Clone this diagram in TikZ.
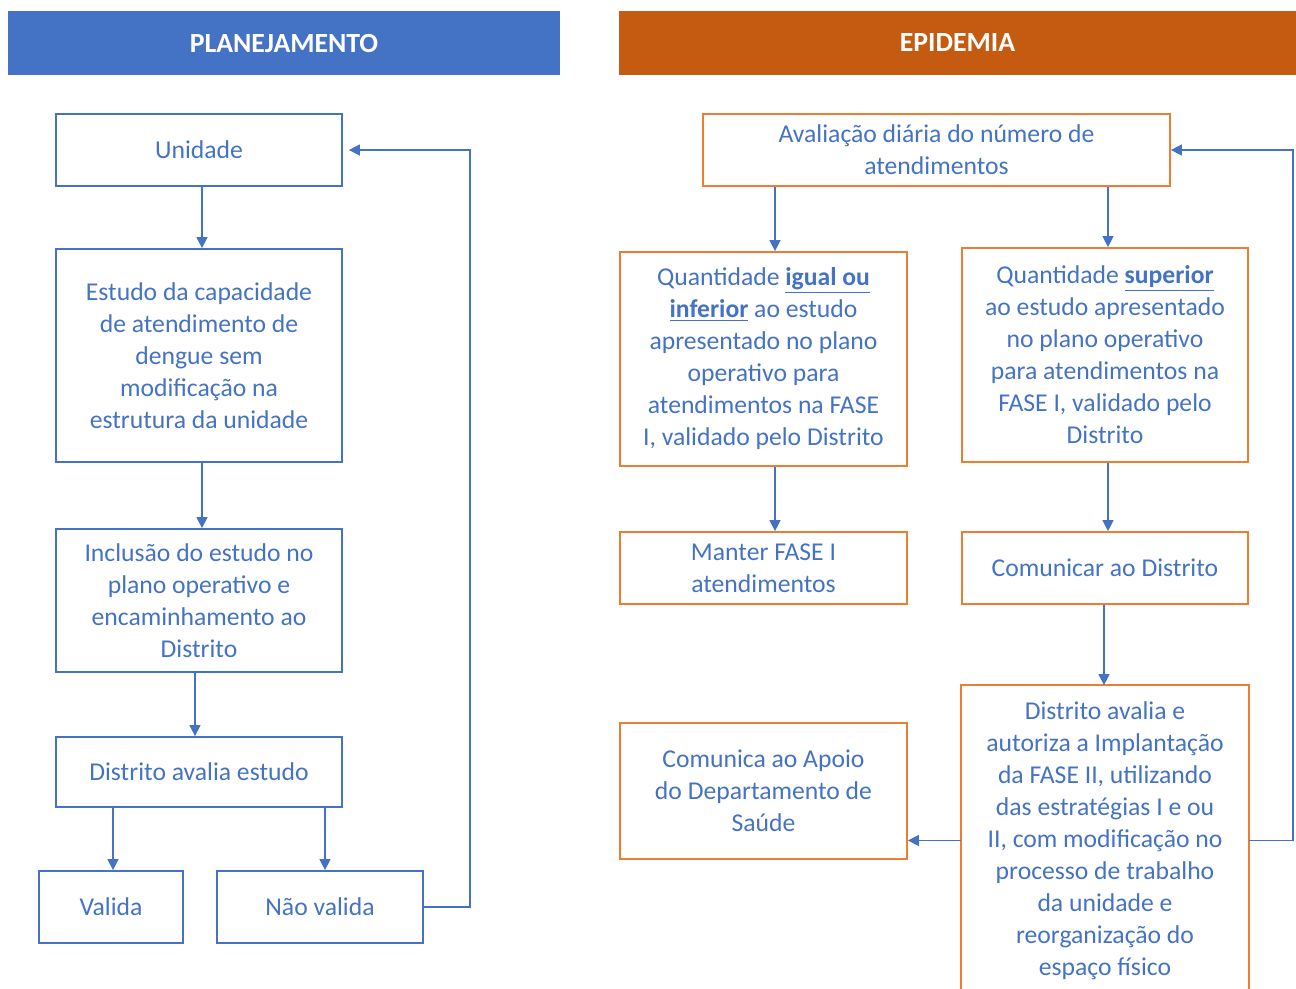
\documentclass[tikz,border=0pt]{standalone}
\usepackage{fontspec}
\setmainfont{Carlito}
\usetikzlibrary{arrows.meta}
\definecolor{planblue}{HTML}{4472C4}
\definecolor{epiorange}{HTML}{C55A11}
\definecolor{boxorange}{HTML}{ED7D31}
\def\px{0.02cm}
\def\boxfont{\fontsize{14.6}{18.2}\selectfont}

\tikzset{
  box/.style={draw=planblue, line width=1pt, text=planblue, align=center, font=\boxfont, inner sep=0pt},
  obox/.style={box, draw=boxorange},
  header/.style={inner sep=0pt, text=white, font=\fontsize{15.8}{19}\selectfont\bfseries},
  arr/.style={-{Triangle[length=2.2mm,width=2.2mm]}, draw=planblue, line width=0.8pt},
}

\begin{document}
\begin{tikzpicture}[x=0.02cm, y=-0.02cm]
\useasboundingbox (0,0) rectangle (1296,989);

% Headers
\node[header, fill=planblue, minimum width=552*\px, minimum height=64*\px] (plan) at (284,43) {PLANEJAMENTO};
\node[header, fill=epiorange, minimum width=677*\px, minimum height=64*\px] (epi) at (957.5,43) {EPIDEMIA};

% Planejamento
\node[box, minimum width=286*\px, minimum height=72*\px] (unidade) at (199,150) {Unidade};
\node[box, minimum width=286*\px, minimum height=213*\px] (estudo) at (199,355.5) {Estudo da capacidade\\de atendimento de\\dengue sem\\modificação na\\estrutura da unidade};
\node[box, minimum width=286*\px, minimum height=143*\px] (inclusao) at (199,600.5) {Inclusão do estudo no\\plano operativo e\\encaminhamento ao\\Distrito};
\node[box, minimum width=286*\px, minimum height=70*\px] (avalia) at (199,772) {Distrito avalia estudo};
\node[box, minimum width=144*\px, minimum height=72*\px] (valida) at (111,907) {Valida};
\node[box, minimum width=206*\px, minimum height=72*\px] (naovalida) at (320,907) {Não valida};

\draw[arr] (202,0 |- unidade.south) -- (202,0 |- estudo.north);
\draw[arr] (202,0 |- estudo.south) -- (202,0 |- inclusao.north);
\draw[arr] (195,0 |- inclusao.south) -- (195,0 |- avalia.north);
\draw[arr] (113,0 |- avalia.south) -- (113,0 |- valida.north);
\draw[arr] (325,0 |- avalia.south) -- (325,0 |- naovalida.north);
\draw[arr, shorten >=1.2mm] (naovalida.east) -| (470,0 |- unidade.east) -- (unidade.east); % back to Unidade

% Epidemia
\node[obox, minimum width=467*\px, minimum height=72*\px] (aval) at (936.5,150) {Avaliação diária do número de\\atendimentos};
\node[obox, minimum width=287*\px, minimum height=214*\px] (igual) at (763.5,359) {Quantidade \underline{\textbf{igual ou}}\\\underline{\textbf{inferior}} ao estudo\\apresentado no plano\\operativo para\\atendimentos na FASE\\I, validado pelo Distrito};
\node[obox, minimum width=286*\px, minimum height=214*\px] (superior) at (1105,355) {Quantidade \underline{\textbf{superior}}\\ao estudo apresentado\\no plano operativo\\para atendimentos na\\FASE I, validado pelo\\Distrito};
\node[obox, minimum width=287*\px, minimum height=72*\px] (manter) at (763.5,568) {Manter FASE I\\atendimentos};
\node[obox, minimum width=286*\px, minimum height=72*\px] (comunicar) at (1105,568) {Comunicar ao Distrito};
\node[obox, minimum width=287*\px, minimum height=136*\px] (apoio) at (763.5,791) {Comunica ao Apoio\\do Departamento de\\Saúde};
\node[obox, draw=none, minimum width=286*\px, minimum height=309*\px] (distrito) at (1105,840.5) {Distrito avalia e\\autoriza a Implantação\\da FASE II, utilizando\\das estratégias I e ou\\II, com modificação no\\processo de trabalho\\da unidade e\\reorganização do\\espaço físico};
\draw[boxorange, line width=1pt] (distrito.west |- 0,989) -- (distrito.north west) -- (distrito.north east) -- (distrito.east |- 0,989); % open at the bottom

\draw[arr] (775,0 |- aval.south) -- (775,0 |- igual.north);
\draw[arr] (1108,0 |- aval.south) -- (1108,0 |- superior.north);
\draw[arr] (775,0 |- igual.south) -- (775,0 |- manter.north);
\draw[arr] (1108,0 |- superior.south) -- (1108,0 |- comunicar.north);
\draw[arr] (1104,0 |- comunicar.south) -- (1104,0 |- distrito.north);
\draw[arr] (distrito.west) -- (apoio.east |- distrito.west);
\draw[arr] (distrito.east) -| (1293,0 |- aval.east) -- (aval.east); % back to Avaliação

\end{tikzpicture}
\end{document}
